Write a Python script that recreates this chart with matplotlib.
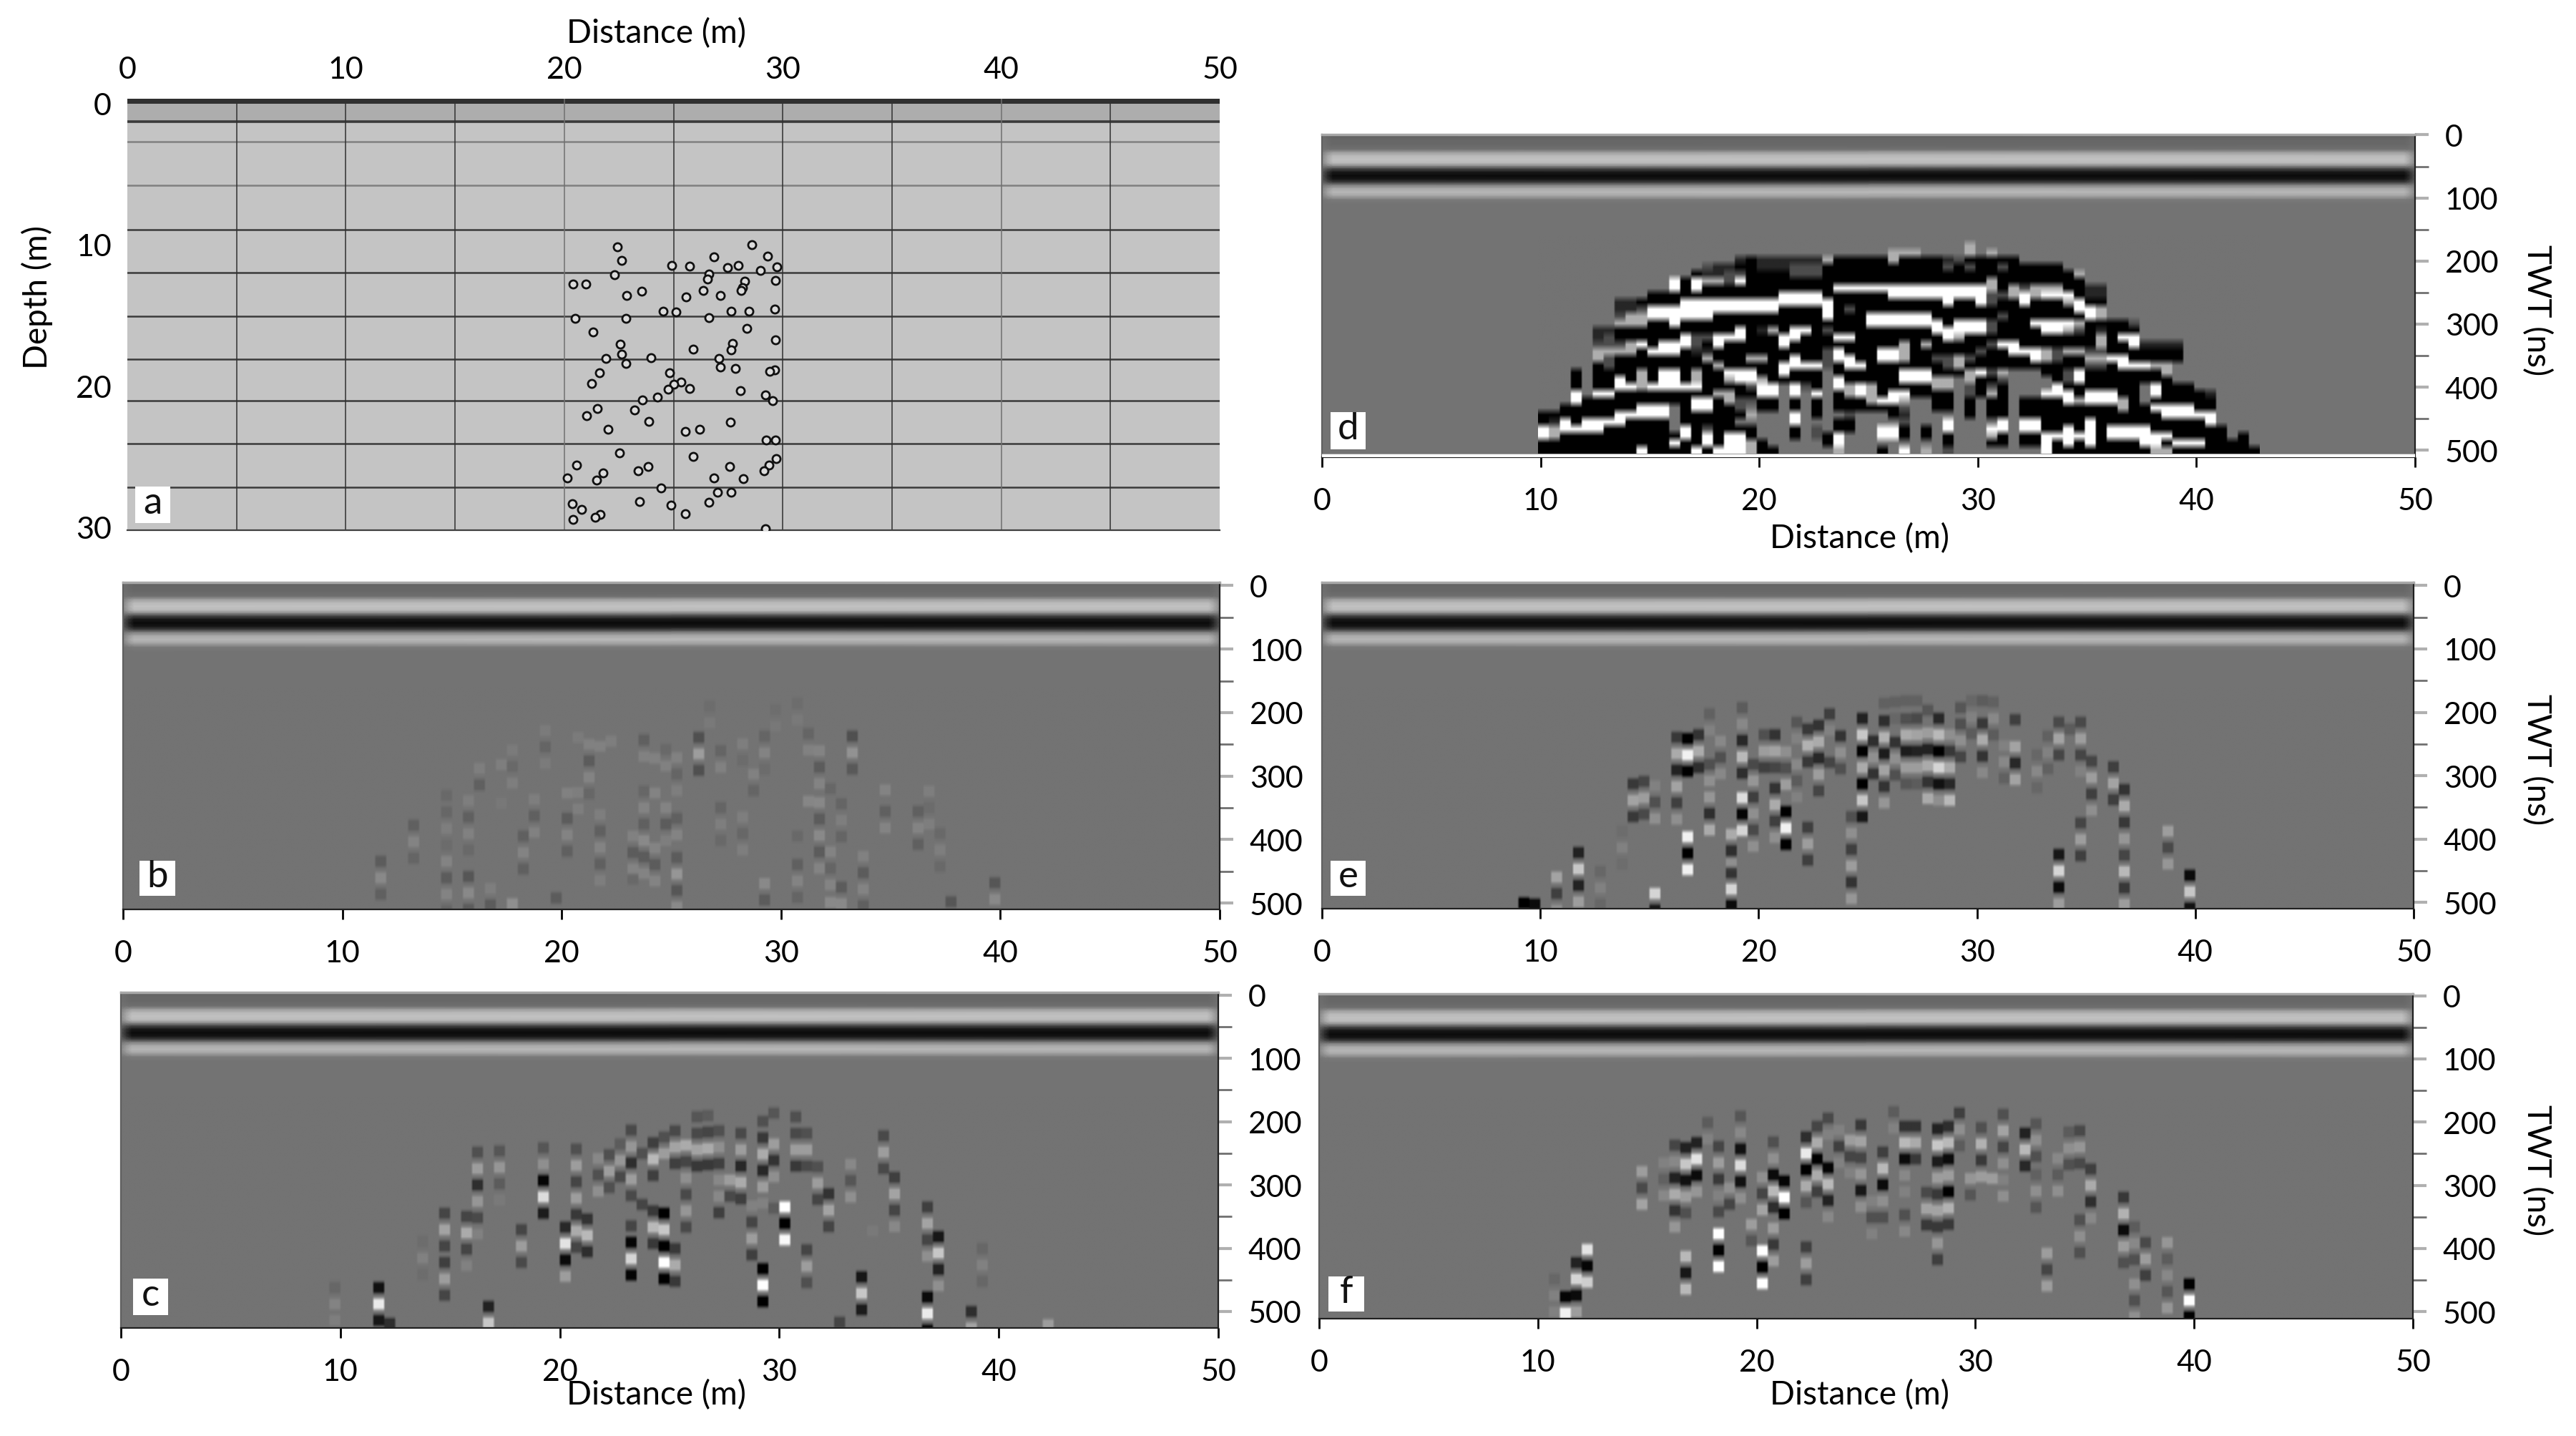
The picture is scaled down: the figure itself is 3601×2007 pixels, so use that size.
import re
import numpy as np
import matplotlib
matplotlib.use("Agg")
import matplotlib.pyplot as plt
from matplotlib.patches import Rectangle

plt.rcParams['font.family'] = ['Lato', 'DejaVu Sans']

# --- panel a: layered model with pebbles -------------------------------------
pebble_x = [22.44, 28.57, 22.63, 26.84, 29.32, 24.92, 25.75, 27.48, 27.97, 29.74, 28.98, 22.29, 26.62, 26.54,
            20.41, 20.98, 28.27, 29.66, 28.16, 28.08, 23.53, 22.86, 26.35, 25.56, 27.14, 24.51, 25.11, 27.63,
            28.46, 29.62, 20.49, 22.82, 26.62, 28.35, 21.32, 29.66, 22.56, 27.71, 27.63, 25.90, 22.63, 21.92,
            23.98, 27.07, 22.82, 27.14, 27.82, 29.62, 29.40, 21.62, 24.81, 21.24, 25.34, 25.00, 24.77, 25.75,
            28.05, 29.21, 29.55, 24.25, 23.57, 21.50, 21.02, 23.23, 23.87, 27.59, 21.99, 25.53, 26.20, 29.25,
            29.66, 22.52, 25.90, 29.70, 29.36, 20.56, 27.56, 23.83, 23.38, 29.14, 21.77, 20.15, 26.84, 28.20,
            21.47, 24.44, 27.03, 27.63, 23.46, 26.62, 20.38, 24.89, 20.79, 21.65, 25.53, 21.43, 20.41, 29.21]
pebble_depth = [10.30, 10.14, 11.24, 10.98, 10.93, 11.59, 11.64, 11.74, 11.59, 11.67, 11.92, 12.25, 12.17, 12.55,
                12.88, 12.88, 12.71, 12.66, 13.14, 13.31, 13.37, 13.67, 13.31, 13.80, 13.67, 14.79, 14.81, 14.79,
                14.76, 14.61, 15.29, 15.29, 15.22, 15.95, 16.21, 16.76, 17.07, 17.02, 17.45, 17.40, 17.78, 18.08,
                18.01, 18.08, 18.39, 18.67, 18.74, 18.84, 18.97, 19.05, 19.07, 19.81, 19.68, 19.83, 20.19, 20.16,
                20.29, 20.59, 21.00, 20.75, 20.95, 21.53, 22.04, 21.63, 22.44, 22.47, 23.00, 23.13, 22.98, 23.71,
                23.74, 24.63, 24.90, 25.00, 25.46, 25.46, 25.59, 25.59, 25.87, 25.87, 26.00, 26.35, 26.35, 26.40,
                26.53, 27.04, 27.36, 27.36, 28.00, 28.05, 28.18, 28.25, 28.56, 28.89, 28.84, 29.11, 29.24, 29.88]
layer_depth = [1.6, 3.0, 6.0, 9.1, 12.1, 15.1, 18.1, 21.0, 24.0, 27.0]
grid_x = [5, 10, 15, 20, 25, 30, 35, 40, 45]

# --- direct wave band common to all radargrams: time (ns), grey level ---------
band_t = [-5, -3.5, 0, 10, 17, 22, 27, 33, 39, 44, 48, 53, 59, 65, 70, 74, 79, 85, 91, 97, 104]
band_grey = [0.60, 0.38, 0.40, 0.41, 0.44, 0.62, 0.72, 0.76, 0.72, 0.50, 0.28, 0.10, 0.04, 0.10, 0.28, 0.50, 0.66, 0.72, 0.64, 0.48, 0.45]
band_edge_x = [0, 0.25, 0.5, 49.5, 49.75, 50]
band_edge_weight = [0.3, 0.7, 1, 1, 0.7, 0.3]

# --- panels b, c, e, f: (trace distance, time of first lobe, lobe amplitudes) -
# lobes of one run are 26 ns apart, -1 black, +1 white
traces_b = [
    (11.75, 435, [-.2, .16, -.16]), (13.25, 378, [-.16, .12, -.12]),
    (14.75, 331, [-.08, -.1, .08, -.06, .12, -.2, .12, -.12]),
    (15.75, 339, [.08, -.16, .1, -.08]), (15.75, 459, [-.25, .16, -.2]),
    (16.25, 288, [.08, -.16]), (16.75, 478, [.08, -.2]), (17.25, 282, [.08]), (17.25, 343, [.04]),
    (17.75, 259, [.06, -.08, .08]), (17.75, 502, [.2]), (18.25, 395, [-.16, .12, -.16]),
    (18.75, 337, [.08, -.16, .1]), (19.25, 228, [.06, -.12, .06]), (19.75, 493, [-.2]),
    (20.25, 327, [.1]), (20.25, 367, [-.2, .12, -.16]), (20.75, 239, [.06]), (20.75, 326, [.08, .08]),
    (21.25, 250, [.1, -.2, .12, -.1]), (21.75, 253, [.1]), (21.75, 361, [.08, -.16, .12, -.16, .08]),
    (22.25, 245, [.08]), (23.25, 395, [.1, -.2, .12]), (23.25, 463, [-.08]),
    (23.75, 243, [-.16, .1]), (23.75, 324, [-.1, .12, -.16, .16, -.2, .12]),
    (24.25, 272, [.1]), (24.25, 327, [.12]), (24.25, 414, [.12, -.2, .12]),
    (24.75, 258, [-.08, .1]), (24.75, 350, [.12, -.2, .08]),
    (25.25, 271, [.1, -.12, .08]), (25.25, 367, [-.16, .12]), (25.25, 429, [-.2, .25, -.25, .16]),
    (26.25, 239, [-.3, .3, -.3]), (26.75, 190, [-.05, .05]), (27.25, 260, [-.12, .1]), (27.25, 350, [-.12, .08, -.08]),
    (28.25, 249, [.08, -.06]), (28.25, 365, [.08, -.1, .08]), (28.75, 297, [.1, -.12]),
    (29.25, 237, [-.12, .12, -.06]), (29.25, 470, [.16, -.2]), (29.75, 195, [-.04, .04]), (30.75, 395, [-.08]), (30.75, 440, [-.16, .12, -.12]),
    (30.75, 185, [-.05, .05]), (31.25, 233, [-.12, .1]), (31.25, 340, [.14]), (31.75, 260, [.12, -.2, .12]), (31.75, 342, [.15, -.2, .16, -.2, .12]),
    (32.25, 320, [-.1]), (32.25, 420, [.12, -.12, .12]), (32.25, 500, [.16]),
    (32.75, 344, [-.12, .08, -.12]), (32.75, 476, [-.2, .16]), (33.25, 237, [-.3, .22, -.22]),
    (33.75, 427, [.1, -.2, .12, -.16]), (34.75, 322, [.12]), (34.75, 356, [-.16, .12]),
    (36.25, 356, [-.16, .12, -.16]), (36.75, 324, [.08, -.06, .08]), (37.25, 391, [-.08, .08, -.08]),
    (37.75, 499, [-.25]), (39.75, 469, [-.25, .16]),
]
traces_c = [
    (9.75, 463, [-.1, .12, .08]), (11.75, 463, [-.85, .85, -.8]), (12.25, 520, [-.6]),
    (13.75, 390, [-.05, .1, -.05]), (14.75, 345, [-.4, .35, -.4, -.45, .3, -.4]),
    (15.75, 350, [-.4, .4, -.4, .1]), (16.25, 248, [-.3, .3, -.6, .25, -.35, .1]),
    (16.75, 493, [-.7, .6]), (17.25, 246, [-.25, .25, -.2, .05]), (18.25, 371, [-.4, .3, -.35]),
    (19.25, 241, [-.25, .2, -.95, .75, -.75]), (20.25, 367, [-.65, .8, -.9, .3]),
    (20.75, 243, [-.3, .3, -.4, .3, -.5, .4, -.4]), (21.25, 354, [-.55, .5, -.6]),
    (21.75, 258, [.15, -.3, .2]), (22.25, 252, [-.3, .3, -.3]), (22.75, 235, [-.2, .25, -.35]),
    (23.25, 213, [-.35, .25, -.6, .3, -.35]), (23.25, 365, [-.4, -.95, .7, -.95]),
    (23.75, 250, [-.3]), (23.75, 331, [-.4]), (24.25, 233, [-.45, .5, -.45]), (24.25, 341, [-.5, .5, -.5]),
    (24.75, 224, [-.3, .3]), (24.75, 345, [-1, .6, -1, 1, -1]),
    (25.25, 214, [-.35, .35, -.45]), (25.25, 401, [-.5, .4, -.5]),
    (25.75, 237, [.4, -.4, .2, -.35, .25, -.35]), (26.25, 192, [-.25, -.35, .35, -.5]),
    (26.75, 190, [-.2, -.4, .4, -.5]), (27.25, 214, [-.3, .2, -.45, .15, .15, -.45]),
    (27.75, 292, [.3, -.35]), (28.25, 218, [-.35, .3, -.65, .4, -.45]), (28.75, 333, [.1, -.4, .3, -.45]),
    (29.25, 199, [-.3, -.5, .4, -.65, .3, .1]), (29.25, 433, [-1, 1, -1]),
    (29.75, 186, [-.25]), (29.75, 235, [.3, -.55, .2]), (29.75, 337, [-.2]),
    (30.25, 335, [1, -1, .95]), (30.75, 192, [-.3, -.35, .3, -.5]),
    (31.25, 218, [-.3, .3, -.35]), (31.25, 403, [-.4, .3, -.3]), (31.75, 271, [-.3, .3, -.4]),
    (32.25, 314, [-.55, .35, -.4]), (32.75, 518, [-.4]), (33.25, 267, [.15, -.25, .2]),
    (33.75, 446, [-.8, .6, -.75]), (34.25, 373, [.05]), (34.75, 222, [-.35, .3, -.35]),
    (35.25, 288, [-.45, .35, -.4, .15]), (36.75, 335, [-.45, .35, -.4, .2]), (36.75, 478, [-.9, .85, -.9]),
    (37.25, 382, [-.8, .6, -.7, .2]), (38.75, 501, [-.6, .35]), (39.25, 401, [-.1, .1, -.1]), (42.25, 522, [.3]),
]
traces_e = [
    (9.25, 502, [-1]), (9.75, 504, [-.9]), (10.75, 461, [.35, -.45, .2]), (11.75, 422, [-.7, .6, -.7, .3]),
    (12.75, 452, [-.1, .1, -.1]), (13.75, 388, [-.05, .1, -.05]), (14.25, 313, [-.5, .35, -.5]),
    (14.75, 309, [-.4, .3, -.35]), (15.25, 316, [.1, -.3, .2]), (15.25, 487, [.7, -.8]),
    (16.25, 239, [-.5, .4, -.7, .35, -.45, .2]), (16.75, 241, [-1, .9, -1]), (16.75, 397, [.9, -1, .9]),
    (17.25, 235, [-.55, .4, -.6]), (17.75, 202, [-.15, .1]), (17.75, 282, [-.3, .2, .25, -.6, .4]),
    (18.25, 245, [.15, -.3, .15]), (18.75, 393, [.4, -.6]), (18.75, 440, [.2]), (18.75, 454, [-.55, .7, -.9]),
    (19.25, 192, [-.2, .15, -.65, .5, -.6]), (19.25, 335, [.75, -.95, .7]),
    (19.75, 282, [-.35, .25, -.45, .2, -.35, .2]), (20.25, 235, [-.3, .3, -.45]),
    (20.75, 235, [-.55, .35, -.4]), (20.75, 320, [-.55, .4, -.45, .2]), (21.25, 262, [.2, -.3, .3]),
    (21.25, 357, [-1, .9, -1]), (21.75, 215, [-.25, .1]), (21.75, 282, [.15, -.2, .1]),
    (22.25, 226, [-.5, .45, -.5]), (22.25, 382, [-.45, .3, -.45]), (22.75, 220, [-.55, .4, -.65, .3, -.4]),
    (23.25, 202, [-.45, .1]), (23.25, 279, [-.4]), (23.75, 237, [-.55, .2, -.3]),
    (24.25, 365, [-.3, .2, -.45, .3, -.55, .25]), (24.75, 209, [-.7, .6, -1, .4, -1, .6, -.8]),
    (25.25, 245, [-.6, .2, -.55]), (25.75, 185, [-.15]), (25.75, 213, [-.6, .45, -.75, .35, -.55, .25]),
    (26.25, 183, [-.15, -.1]), (26.25, 247, [-.55, .2, -.3]), (26.75, 181, [-.15, .1]),
    (26.75, 209, [-.4, .4, -.75, .3, -.25]), (27.25, 181, [-.15]), (27.25, 209, [-.35, .35, -.7, .3, -.2]),
    (27.75, 196, [-.25]), (27.75, 232, [.3, -.7, .4, -.55, .4]), (28.25, 209, [-.65, .5, -1, .7, -.85, .2]),
    (28.75, 235, [.2, -.5, .4, -.65, .5]), (29.25, 192, [-.25, -.3, .2, -.4]), (29.75, 181, [-.1, .1, -.2]),
    (30.25, 181, [-.2]), (30.25, 217, [-.5, .4, -.55, .15]), (30.75, 183, [-.15, .15, -.2]),
    (31.25, 252, [.1, .15, -.15]), (31.75, 211, [-.45]), (31.75, 254, [.35, -.65, .35]),
    (32.75, 267, [-.1, .15, -.1]), (33.25, 237, [-.15, .1, -.15]), (33.75, 215, [-.35, .35, -.4]),
    (33.75, 425, [-.8, .7, -.9, .3]), (34.25, 226, [-.2]), (34.75, 215, [-.35, .3, -.4, .1]),
    (34.75, 375, [-.4, .3, -.45]), (35.25, 277, [-.4, .3, -.45, .2]), (36.25, 286, [-.45, .35, -.45]),
    (36.75, 322, [-.55, .4, -.5, .25, -.4, .5, -.5, .3]), (38.75, 388, [.3, -.35, .25]), (39.75, 458, [-.9, .6, -.85]),
]
traces_f = [
    (10.75, 450, [-.1, .1, .1]), (11.25, 478, [-.95, .9]), (11.75, 424, [-.7, .7, -.9, .3]),
    (12.25, 403, [.8, -.95, .65]), (14.75, 279, [.3, -.35, .35]), (15.75, 265, [.1, -.15, .15]),
    (16.25, 237, [-.4, .15, -.7, .4, -.55, .25]), (16.75, 241, [-.7, .6, -.85, .3, -.3]), (16.75, 414, [.5, -.8, .5]),
    (17.25, 233, [-.7, .8, -.9, .25]), (17.75, 201, [-.2, .1]), (18.25, 239, [-.4, .3, -.5, .1, -.35]),
    (18.25, 378, [1, -1, 1]), (18.75, 305, [.2, -.4]), (19.25, 191, [-.25, .15, -.85, .75, -.85, .2]),
    (19.75, 363, [.3, -.25]), (20.25, 288, [.2, -.4, .35]), (20.25, 405, [1, -1, 1]),
    (20.75, 232, [-.3, .2, -.9, .5, -.6]), (20.75, 369, [.3, -.5, .3]), (21.25, 294, [-.95, 1, -1]),
    (22.25, 224, [-.6, .85, -1, .4, -.25]), (22.25, 399, [-.45, .3, -.45]), (22.75, 207, [-.4, .4, -1, .4, -.45]),
    (23.25, 194, [-.35, .1]), (23.25, 273, [-.95, .5, -.7, .15]), (23.75, 213, [.1, -.45, .1]),
    (24.25, 229, [.3, -.4, .1]), (24.75, 205, [-.5, .35, -.4, .25, -.8, .2]), (25.25, 326, [.1, -.3, .1]),
    (25.75, 248, [-.45, .5, -.9, .2, -.3]), (26.25, 184, [-.2, .1]), (26.75, 207, [-.55, .5, -.9, .15, .1]),
    (26.75, 348, [-.3, .15]), (27.25, 207, [-.55, .4, -.5]), (27.75, 312, [-.35, .35, -.5]),
    (28.25, 211, [-.7, .6, -.75, .3, -.5, .35, -.5, .25, -.45]), (28.75, 207, [-.6, .5, -.9, .3, -1, .45, -.5]),
    (29.25, 186, [-.45, .2, -.2]), (29.75, 290, [.25, -.25]), (30.25, 209, [-.3, .45, -.5, .3]),
    (30.75, 290, [.3]), (31.25, 188, [-.3, .35, -.4, .2, .1, .2]), (32.25, 218, [-.7, .5, -.65]),
    (32.75, 203, [-.25, .2, -.3]), (32.75, 284, [-.15, .2, -.25]), (33.25, 409, [.3, -.4, .3]),
    (33.75, 258, [.15, -.2, .2]), (34.25, 216, [-.2, .2, -.3]), (34.75, 214, [-.35, .25, -.35]),
    (34.75, 356, [-.3, .2, -.3]), (35.25, 275, [-.45, .4, -.6, .15]), (36.75, 320, [-.5, .45, -.9, .3, -.3]),
    (37.25, 367, [-.2, .15, -.3]), (37.25, 458, [.2, -.3, .2]), (37.75, 392, [-.35, .3, -.45]),
    (38.75, 392, [.25, -.2, .15, -.25, .25]), (39.75, 458, [-1, 1, -1]),
]

# --- panel d: saturated section, one run-length coded string per 11.34 ns row -
# . background  K black  D dark  d mid dark  g light  W white
d_rows = [
    "",
    "39.g",
    "32.3g4.g.g",
    "18.DK6Dg5Kg4KDd5K",
    "15.dDDKK3D3dK10KdKd2Kd5K",
    "14.KDDddK3K3d23Kg",
    "12.WKWggdWK7K14Kg8K",
    "12.WKW12K14WgKgd3g2K2D",
    "10.12K4WK5K9WddgWgWWWKDD",
    "7.DD4K14W10KWKKWd2KW3KgW2K",
    "7.DDd12W4KWKd20KWWg",
    "7.dgg6W10KW3K6W6Kd7KWg",
    "7.ggg2KW17K7WK3Wd3K4Wg4Kd",
    "5.DD11KWKDgKWWKd9K5Wd4KWWgdKD3K",
    "5.Dd6KWddWWW3KWW3KWW8KWg12KgKWW",
    "5.dddgWK3WdKW5KW10KgKg5KdWW7KgKKW4D",
    "5.4gK3WK2D10KdW3K2WgKK4Kd2K3Wgdggdd3K4K",
    "5.gd8KgKKKggKKWKKdWWKKWWgKKddgd5KWgdKKggWWK4K",
    "5.Kd9Kg5K4WdKWW7Kdg11KddK3Wgg",
    "3.K.4KgKWWKgKK3WKKW3K.6K3W3KgWdg3.KKdW6KKg",
    "3.K.KKWKgKWWKgKKgWWg5K.W5K3Wgg.gKKd4.KdW8K",
    "3.K.KKWWg5W4KdWW.WdK.WgWgKK3Kgg.dKdK4.WKK5K.W3K",
    "3.W.WW9KggKKWW.W.W.KgWgKWW4K.dKgK3.3WK3WKK.W4KD",
    "3.W10KWWKgddKK.K.K.3KgWWg..KK.K.KK.4KWg3WgK.K5K",
    "2.7K3W.KWWKKd.KK.K.K.6Kd..KK.K.KK.9KgKK4WKK",
    "7K5W.6Kg3.W.K..d3.KD5.K.KK.12KK5W",
    "KDWK4W4K.5K.4.W3.KK4.d3.W4.W.WW4KW10KW",
    "Wg4W6K.WKd4K3.K.d.KK..WWK.K.W3.WW.WWKKWKWK4W7K",
    "Wg11KWKWKWWK3.K.dKW3.WWK.K.K3.gK.KK5WK6W5K.K",
    "12KWKKWKWWgK5.KW9.K3.KK.KKWKWKW4KWWK3W4K",
    "9KW4KWK3WgKK5.g3.K.W.g.d8.W9Kgg8K",
]

dist_ticks = [0, 10, 20, 30, 40, 50]
twt_ticks = [0, 100, 200, 300, 400, 500]
twt_minor = [50, 150, 250, 350, 450]
depth_ticks = [0.3, 10.1, 20.0, 29.8]
depth_labels = ["0", "10", "20", "30"]

FIG_W, FIG_H = 3601, 2008
BG = 0.45
FS = 31
d_grey = {".": BG, "K": 0.0, "D": 0.15, "d": 0.3, "g": 0.68, "W": 1.0}


def add_box(fig, l, t, r, b):
    # box given in pixels, top left origin like the reference
    return fig.add_axes([l / FIG_W, 1 - b / FIG_H, (r - l) / FIG_W, (b - t) / FIG_H])


def fig_text(fig, x, y, s, **kw):
    fig.text(x / FIG_W, 1 - y / FIG_H, s, ha=kw.pop("ha", "center"), va=kw.pop("va", "center"), fontsize=kw.pop("fontsize", 33), **kw)


def panel_letter(fig, l, t, r, b, s):
    fig.add_artist(Rectangle((l / FIG_W, 1 - b / FIG_H), (r - l) / FIG_W, (b - t) / FIG_H,
                             transform=fig.transFigure, facecolor="white", edgecolor="none", zorder=5))
    fig_text(fig, (l + r) / 2, (t + b) / 2 - 3, s, zorder=6, fontsize=38, color="#111111")


def radar_axes(fig, box, t_end, shift=0):
    ax = add_box(fig, *box)
    ax.set_facecolor(str(BG))
    grey = np.array(band_grey)
    z = np.outer(grey - BG, band_edge_weight) + BG
    ax.pcolormesh(band_edge_x, np.array(band_t) + shift, z, shading="gouraud", cmap="gray", vmin=0, vmax=1)
    ax.set_xlim(0, 50)
    ax.set_ylim(t_end, -5 + shift)
    ax.yaxis.tick_right()
    ax.set_yticks(twt_ticks)
    ax.set_yticks(twt_minor, minor=True)
    ax.set_yticklabels([str(v) for v in twt_ticks], fontsize=FS)
    ax.tick_params(axis="y", which="major", length=14, width=3, color="#b0b0b0", pad=16)
    ax.tick_params(axis="y", which="minor", length=14, width=2, color="#707070")
    ax.set_xticks(dist_ticks)
    ax.set_xticklabels([str(v) for v in dist_ticks], fontsize=FS)
    ax.tick_params(axis="x", length=10, width=2, color="black", pad=20)
    for side in ("left", "bottom", "right"):
        ax.spines[side].set_color("#202020")
        ax.spines[side].set_linewidth(1.6)
    ax.spines["left"].set_color("#606060")
    ax.spines["top"].set_color("#a8a8a8")
    ax.spines["top"].set_linewidth(2.5)
    return ax


def draw_traces(ax, traces, t_end):
    # each lobe fills its 0.5 m column, flat topped and about 28 ns tall
    t = np.arange(160, t_end + 2, 2.0)
    amp = np.zeros((len(t), 100))
    for x, t0, lobes in traces:
        col = int(x / 0.5)
        for i, a in enumerate(lobes):
            d = np.abs(t - (t0 + 26 * i))
            shape = np.where(d < 14, np.clip(1.6 * np.cos(np.pi * d / 28) ** 2, 0, 1), 0)
            amp[:, col] += a * shape
    amp = np.clip(amp, -1, 1)
    img = BG + np.where(amp < 0, amp * BG, amp * (1 - BG))
    img = np.repeat(img, 5, axis=1)
    ax.imshow(img, extent=[0, 50, t_end, 160], aspect="auto", cmap="gray", vmin=0, vmax=1,
              interpolation="bilinear", zorder=2)
    ax.set_xlim(0, 50)


def decode_row(row, n=66):
    vals = []
    for count, ch in re.findall(r"(\d*)(\D)", row):
        vals += [d_grey[ch]] * (int(count) if count else 1)
    vals = (vals + [BG] * n)[:n]
    return vals


fig = plt.figure(figsize=(FIG_W / 100, FIG_H / 100), dpi=100, facecolor="white")

# panel a
ax = add_box(fig, 178, 139, 1705, 742)
ax.set_facecolor("#c4c4c4")
ax.axhspan(0, 1.6, color="#adadad", lw=0, zorder=1)
ax.axhspan(0, 0.35, color="#303030", lw=0, zorder=2)
for i, d in enumerate(layer_depth):
    col = "#808080" if d in (3.0, 6.0) else "#3a3a3a"
    ax.axhline(d, color=col, lw=1.8 if d != 1.6 else 2.6, zorder=2)
for x in grid_x:
    ax.axvline(x, color="#303030" if x not in (20, 40) else "#707070", lw=1.1, zorder=2)
ax.plot(pebble_x, pebble_depth, ls="none", marker="o", ms=8, mfc="#dcdcdc", mec="#101010", mew=2.0, zorder=3)
ax.set_xlim(0, 50)
ax.set_ylim(30, 0)
ax.xaxis.tick_top()
ax.set_xticks(dist_ticks)
ax.set_xticklabels([str(v) for v in dist_ticks], fontsize=FS)
ax.set_yticks(depth_ticks)
ax.set_yticklabels(depth_labels, fontsize=FS)
ax.tick_params(length=0, pad=16)
for side in ("top", "right", "left"):
    ax.spines[side].set_visible(False)
ax.spines["bottom"].set_color("#404040")
ax.spines["bottom"].set_linewidth(1.6)
fig_text(fig, 918, 47, "Distance (m)")
fig_text(fig, 52, 416, "Depth (m)", rotation=90)

# panels b, c, e, f
ax_b = radar_axes(fig, (172, 815, 1705, 1272), 510)
draw_traces(ax_b, traces_b, 510)
ax_c = radar_axes(fig, (169, 1388, 1703, 1857), 526, shift=1)
draw_traces(ax_c, traces_c, 526)
ax_e = radar_axes(fig, (1848, 815, 3374, 1271), 510)
draw_traces(ax_e, traces_e, 510)
ax_f = radar_axes(fig, (1844, 1390, 3373, 1844), 511, shift=2)
draw_traces(ax_f, traces_f, 511)

# panel d, vertical smoothing left to the image interpolation
ax_d = radar_axes(fig, (1848, 189, 3376, 640), 511, shift=6)
grid = np.array([decode_row(r) for r in d_rows])
grid = np.repeat(grid, 6, axis=1)
ax_d.imshow(grid, extent=[9.88, 9.88 + 33, 505, 159.4], aspect="auto", cmap="gray", vmin=0, vmax=1,
            interpolation="bilinear", zorder=2)
ax_d.set_xlim(0, 50)
ax_d.set_ylim(511, -0.5)
ax_d.axhspan(505, 507, color="#9a9a9a", lw=0, zorder=3)
ax_d.axhspan(507, 511, color="white", lw=0, zorder=3)

# axis titles
fig_text(fig, 2600, 753, "Distance (m)")
fig_text(fig, 918, 1950, "Distance (m)")
fig_text(fig, 2600, 1950, "Distance (m)")
fig_text(fig, 3546, 434, "TWT (ns)", rotation=270)
fig_text(fig, 3546, 1062, "TWT (ns)", rotation=270)
fig_text(fig, 3546, 1636, "TWT (ns)", rotation=270)

# panel letters
panel_letter(fig, 189, 681, 238, 732, "a")
panel_letter(fig, 195, 1204, 245, 1253, "b")
panel_letter(fig, 186, 1788, 235, 1839, "c")
panel_letter(fig, 1860, 577, 1909, 629, "d")
panel_letter(fig, 1860, 1204, 1909, 1253, "e")
panel_letter(fig, 1857, 1785, 1907, 1834, "f")

fig.savefig("out.png", dpi=100, facecolor="white")
plt.close(fig)
